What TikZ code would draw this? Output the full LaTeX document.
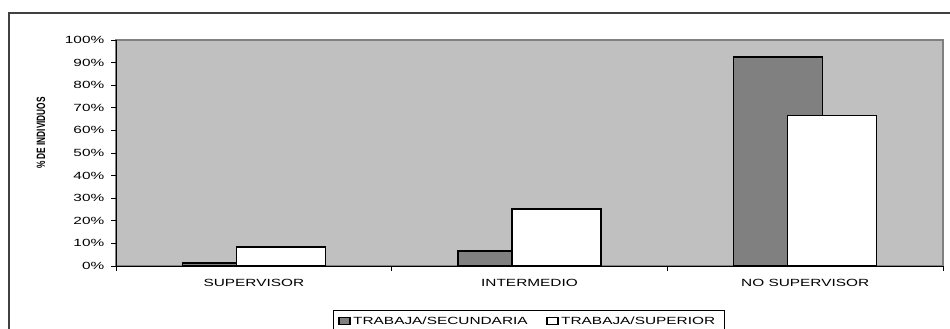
\documentclass[tikz,border=0pt]{standalone}
\usepackage{fontspec}
\setmainfont{Liberation Sans}
\usetikzlibrary{positioning}

\definecolor{plotgray}{HTML}{C0C0C0}
\definecolor{plotedge}{HTML}{808080}
\definecolor{bardark}{HTML}{808080}
\definecolor{framegray}{HTML}{404040}

\newcommand{\plotLeft}{116}
\newcommand{\plotRight}{943}
\newcommand{\plotTop}{40}
\newcommand{\plotBottom}{266}
\newcommand{\PctHeight}{2.26}
\newcommand{\CatWidth}{275.67}
\newcommand{\BarWidth}{89}
\newcommand{\BarHalf}{17.5}
\newcommand{\wideText}[1]{\scalebox{1.48}[1]{#1}}

\begin{document}
\begin{tikzpicture}[x=1pt, y=-1pt, font=\fontsize{10.4}{12}\selectfont]
    \useasboundingbox (0,0) rectangle (950,329);

    \draw[framegray, line width=1.5] (9,335) -- (9,13) -- (952,13);

    \filldraw[fill=plotgray, draw=plotedge, line width=1.2]
      (\plotLeft, \plotTop) rectangle (\plotRight, \plotBottom);
    \draw[black, line width=0.8] (\plotLeft, \plotTop) -- (\plotLeft, \plotBottom) -- (\plotRight, \plotBottom);

    % y ticks
    \draw[black, line width=0.8] (\plotLeft-5, {\plotBottom-0*\PctHeight}) -- (\plotLeft, {\plotBottom-0*\PctHeight});
    \draw[black, line width=0.8] (\plotLeft-5, {\plotBottom-10*\PctHeight}) -- (\plotLeft, {\plotBottom-10*\PctHeight});
    \draw[black, line width=0.8] (\plotLeft-5, {\plotBottom-20*\PctHeight}) -- (\plotLeft, {\plotBottom-20*\PctHeight});
    \draw[black, line width=0.8] (\plotLeft-5, {\plotBottom-30*\PctHeight}) -- (\plotLeft, {\plotBottom-30*\PctHeight});
    \draw[black, line width=0.8] (\plotLeft-5, {\plotBottom-40*\PctHeight}) -- (\plotLeft, {\plotBottom-40*\PctHeight});
    \draw[black, line width=0.8] (\plotLeft-5, {\plotBottom-50*\PctHeight}) -- (\plotLeft, {\plotBottom-50*\PctHeight});
    \draw[black, line width=0.8] (\plotLeft-5, {\plotBottom-60*\PctHeight}) -- (\plotLeft, {\plotBottom-60*\PctHeight});
    \draw[black, line width=0.8] (\plotLeft-5, {\plotBottom-70*\PctHeight}) -- (\plotLeft, {\plotBottom-70*\PctHeight});
    \draw[black, line width=0.8] (\plotLeft-5, {\plotBottom-80*\PctHeight}) -- (\plotLeft, {\plotBottom-80*\PctHeight});
    \draw[black, line width=0.8] (\plotLeft-5, {\plotBottom-90*\PctHeight}) -- (\plotLeft, {\plotBottom-90*\PctHeight});
    \draw[black, line width=0.8] (\plotLeft-5, {\plotBottom-100*\PctHeight}) -- (\plotLeft, {\plotBottom-100*\PctHeight});

    \node[anchor=east, inner sep=0] (pct0) at (104.5, {\plotBottom-0*\PctHeight}) {\wideText{0\%}};
    \node[anchor=east, inner sep=0] (pct10) at (104.5, {\plotBottom-10*\PctHeight}) {\wideText{10\%}};
    \node[anchor=east, inner sep=0] (pct20) at (104.5, {\plotBottom-20*\PctHeight}) {\wideText{20\%}};
    \node[anchor=east, inner sep=0] (pct30) at (104.5, {\plotBottom-30*\PctHeight}) {\wideText{30\%}};
    \node[anchor=east, inner sep=0] (pct40) at (104.5, {\plotBottom-40*\PctHeight}) {\wideText{40\%}};
    \node[anchor=east, inner sep=0] (pct50) at (104.5, {\plotBottom-50*\PctHeight}) {\wideText{50\%}};
    \node[anchor=east, inner sep=0] (pct60) at (104.5, {\plotBottom-60*\PctHeight}) {\wideText{60\%}};
    \node[anchor=east, inner sep=0] (pct70) at (104.5, {\plotBottom-70*\PctHeight}) {\wideText{70\%}};
    \node[anchor=east, inner sep=0] (pct80) at (104.5, {\plotBottom-80*\PctHeight}) {\wideText{80\%}};
    \node[anchor=east, inner sep=0] (pct90) at (104.5, {\plotBottom-90*\PctHeight}) {\wideText{90\%}};
    \node[anchor=east, inner sep=0] (pct100) at (104.5, {\plotBottom-100*\PctHeight}) {\wideText{100\%}};

    \node[rotate=90, inner sep=0] (ytitle) at (41, 133)
      {\scalebox{1}[1.45]{\bfseries\fontsize{8.3}{9}\selectfont \% DE INDIVIDUOS}};

    % x ticks
    \draw[black, line width=0.8] (\plotLeft+\CatWidth*0, \plotBottom) -- (\plotLeft+\CatWidth*0, \plotBottom+5);
    \draw[black, line width=0.8] (\plotLeft+\CatWidth*1, \plotBottom) -- (\plotLeft+\CatWidth*1, \plotBottom+5);
    \draw[black, line width=0.8] (\plotLeft+\CatWidth*2, \plotBottom) -- (\plotLeft+\CatWidth*2, \plotBottom+5);
    \draw[black, line width=0.8] (\plotLeft+\CatWidth*3, \plotBottom) -- (\plotLeft+\CatWidth*3, \plotBottom+5);

    % bars: secundaria behind, superior in front
    \filldraw[fill=bardark, draw=black, line width=1.5]
      ({\plotLeft+\CatWidth*0.5-\BarWidth+\BarHalf}, \plotBottom) rectangle ({\plotLeft+\CatWidth*0.5+\BarHalf}, {\plotBottom-1.3*\PctHeight});
    \filldraw[fill=white, draw=black, line width=1.5]
      ({\plotLeft+\CatWidth*0.5-\BarHalf}, \plotBottom) rectangle ({\plotLeft+\CatWidth*0.5-\BarHalf+\BarWidth}, {\plotBottom-8.3*\PctHeight});

    \filldraw[fill=bardark, draw=black, line width=1.5]
      ({\plotLeft+\CatWidth*1.5-\BarWidth+\BarHalf}, \plotBottom) rectangle ({\plotLeft+\CatWidth*1.5+\BarHalf}, {\plotBottom-6.6*\PctHeight});
    \filldraw[fill=white, draw=black, line width=1.5]
      ({\plotLeft+\CatWidth*1.5-\BarHalf}, \plotBottom) rectangle ({\plotLeft+\CatWidth*1.5-\BarHalf+\BarWidth}, {\plotBottom-25.2*\PctHeight});

    \filldraw[fill=bardark, draw=black, line width=1.5]
      ({\plotLeft+\CatWidth*2.5-\BarWidth+\BarHalf}, \plotBottom) rectangle ({\plotLeft+\CatWidth*2.5+\BarHalf}, {\plotBottom-92.4*\PctHeight});
    \filldraw[fill=white, draw=black, line width=1.5]
      ({\plotLeft+\CatWidth*2.5-\BarHalf}, \plotBottom) rectangle ({\plotLeft+\CatWidth*2.5-\BarHalf+\BarWidth}, {\plotBottom-66.7*\PctHeight});

    \node[inner sep=0] (catsup) at ({\plotLeft+\CatWidth*0.5}, 283) {\wideText{SUPERVISOR}};
    \node[inner sep=0] (catint) at ({\plotLeft+\CatWidth*1.5}, 283) {\wideText{INTERMEDIO}};
    \node[inner sep=0] (catnosup) at ({\plotLeft+\CatWidth*2.5}, 283) {\wideText{NO SUPERVISOR}};

    % legend
    \filldraw[fill=white, draw=black, line width=0.8] (333, 310) rectangle (724, 340);
    \filldraw[fill=bardark, draw=black, line width=1.3] (339, 317.5) rectangle (350, 324.5);
    \node[anchor=west, inner sep=0] (legsec) at (353, 321) {\wideText{TRABAJA/SECUNDARIA}};
    \filldraw[fill=white, draw=black, line width=1.3] (547, 317.5) rectangle (558, 324.5);
    \node[anchor=west, inner sep=0] (legsup) at (561, 321) {\wideText{TRABAJA/SUPERIOR}};

\end{tikzpicture}
\end{document}
